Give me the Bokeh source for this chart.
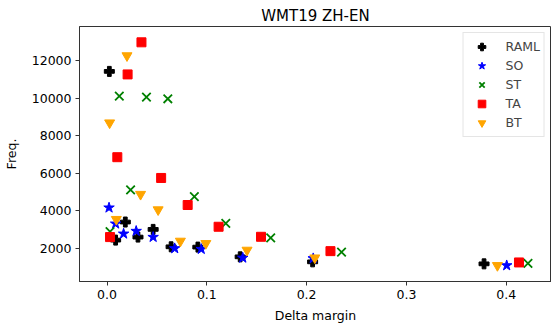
from bokeh.plotting import figure
from bokeh.models import Range1d, FixedTicker, Legend, LegendItem
from bokeh.embed import file_html
from bokeh.resources import INLINE

FONT = "DejaVu Sans"

# ---- data ----
raml_x = [0.0023, 0.0086, 0.0183, 0.031, 0.0462, 0.0642, 0.091, 0.1334, 0.206, 0.3778]
raml_y = [11443, 2428, 3393, 2589, 3000, 2070, 2053, 1534, 1266, 1159]

so_x = [0.002, 0.0086, 0.0166, 0.0292, 0.0462, 0.0678, 0.0944, 0.136, 0.2066, 0.4005]
so_y = [4159, 3302, 2766, 2911, 2589, 1984, 1946, 1480, 1450, 1073]

st_x = [0.0123, 0.0395, 0.0609, 0.0236, 0.0875, 0.119, 0.003, 0.164, 0.235, 0.4218]
st_y = [10125, 10072, 9981, 5107, 4748, 3323, 2880, 2552, 1786, 1180]

ta_x = [0.0345, 0.0206, 0.0103, 0.0542, 0.0808, 0.1118, 0.003, 0.1543, 0.2239, 0.4128]
ta_y = [12997, 11282, 6858, 5749, 4303, 3141, 2589, 2605, 1839, 1234]

bt_x = [0.02, 0.0026, 0.0336, 0.0512, 0.0093, 0.0735, 0.099, 0.1403, 0.2082, 0.3912]
bt_y = [12284, 8695, 4876, 4052, 3537, 2375, 2250, 1893, 1480, 1073]

x_ticks = [0.0, 0.1, 0.2, 0.3, 0.4]
x_tick_labels = ["0.0", "0.1", "0.2", "0.3", "0.4"]
y_ticks = [2000, 4000, 6000, 8000, 10000, 12000]
y_tick_labels = ["2000", "4000", "6000", "8000", "10000", "12000"]

title_text = "WMT19 ZH-EN"
x_label = "Delta margin"
y_label = "Freq."

p = figure(width=551, height=325, output_backend="svg", toolbar_location=None,
           x_range=Range1d(-0.0276, 0.4454), y_range=Range1d(216, 13842),
           min_border_left=77, min_border_right=0, min_border_top=26, min_border_bottom=44)
p.background_fill_color = "white"
p.border_fill_color = "white"
p.outline_line_color = "#333333"
p.outline_line_width = 1
p.grid.visible = False

p.title.text = title_text
p.title.text_font = FONT
p.title.text_font_size = "15px"
p.title.text_font_style = "normal"
p.title.align = "center"
p.title.standoff = 4
p.title.text_color = "black"

for ax in (p.xaxis[0], p.yaxis[0]):
    ax.axis_line_color = "#333333"
    ax.major_tick_line_color = "#333333"
    ax.major_tick_out = 4
    ax.major_tick_in = 0
    ax.minor_tick_line_color = None
    ax.major_label_text_font = FONT
    ax.major_label_text_font_size = "12.5px"
    ax.major_label_text_color = "black"
    ax.major_label_standoff = 4
    ax.axis_label_text_font = FONT
    ax.axis_label_text_font_size = "12.5px"
    ax.axis_label_text_font_style = "normal"
    ax.axis_label_text_color = "black"

p.xaxis[0].ticker = FixedTicker(ticks=x_ticks)
p.xaxis[0].major_label_overrides = {t: l for t, l in zip(x_ticks, x_tick_labels)}
p.yaxis[0].ticker = FixedTicker(ticks=y_ticks)
p.yaxis[0].major_label_overrides = {t: l for t, l in zip(y_ticks, y_tick_labels)}
p.xaxis[0].axis_label = x_label
p.yaxis[0].axis_label = y_label
p.xaxis[0].axis_label_standoff = 6
p.yaxis[0].axis_label_standoff = 10

r_raml = p.scatter(raml_x, raml_y, marker="plus", size=10, fill_color="black", line_color="black")
r_so = p.scatter(so_x, so_y, marker="star", size=11, fill_color="blue", line_color="blue")
r_st = p.scatter(st_x, st_y, marker="x", size=12, line_color="green", line_width=1.8)
r_ta = p.scatter(ta_x, ta_y, marker="square", size=9, fill_color="red", line_color="red")
r_bt = p.scatter(bt_x, bt_y, marker="inverted_triangle", size=10, fill_color="orange", line_color="orange")

legend = Legend(items=[
    LegendItem(label="RAML", renderers=[r_raml]),
    LegendItem(label="SO", renderers=[r_so]),
    LegendItem(label="ST", renderers=[r_st]),
    LegendItem(label="TA", renderers=[r_ta]),
    LegendItem(label="BT", renderers=[r_bt]),
], location="top_right")
legend.margin = 6
legend.padding = 4
legend.spacing = 0
legend.label_height = 19
legend.glyph_height = 19
legend.glyph_width = 28
legend.label_standoff = 10
legend.label_text_font = FONT
legend.label_text_font_size = "12.5px"
legend.border_line_color = "#cccccc"
legend.border_line_width = 1
legend.background_fill_alpha = 0.8
p.add_layout(legend)

open("out.html", "w").write(file_html(p, INLINE))
